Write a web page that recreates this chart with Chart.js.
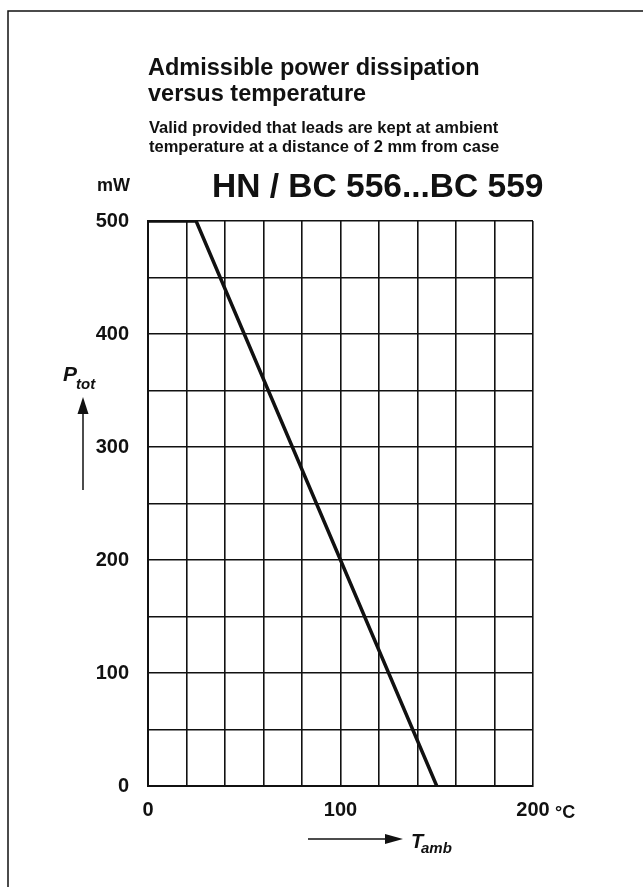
<!DOCTYPE html>
<html>
<head>
<meta charset="utf-8">
<script src="https://cdn.jsdelivr.net/npm/chart.js@4.4.1/dist/chart.umd.min.js"></script>
<style>
  html, body { margin: 0; padding: 0; background: #fff; }
  #wrap { position: relative; width: 643px; height: 887px; }
</style>
</head>
<body>
<div id="wrap"><canvas id="myChart" width="643" height="887"></canvas></div>
<script>
// dữ liệu đường công suất cho phép theo nhiệt độ
var nhietdo = [0, 25, 150];      // T_amb (°C)
var congsuat = [500, 500, 0];    // P_tot (mW)
var xTicks = [0, 100, 200];
var yTicks = [0, 100, 200, 300, 400, 500];

var FONT = "'Liberation Sans', Arial, sans-serif";

// vẽ chữ, mũi tên, khung quét
var chuThich = {
    id: 'chuThich',
    afterDraw: function (chart) {
        var ctx = chart.ctx;
        ctx.save();
        ctx.fillStyle = '#111';
        ctx.strokeStyle = '#111';

        // khung trang
        ctx.lineWidth = 1.5;
        ctx.beginPath();
        ctx.moveTo(8, 887);
        ctx.lineTo(8, 11);
        ctx.lineTo(643, 11);
        ctx.stroke();

        ctx.textBaseline = 'alphabetic';
        ctx.textAlign = 'left';
        ctx.font = 'bold 23.5px ' + FONT;
        ctx.fillText('Admissible power dissipation', 148, 75);
        ctx.fillText('versus temperature', 148, 101);

        ctx.font = 'bold 16.5px ' + FONT;
        ctx.fillText('Valid provided that leads are kept at ambient', 149, 133);
        ctx.fillText('temperature at a distance of 2 mm from case', 149, 152);

        ctx.font = 'bold 33.5px ' + FONT;
        ctx.fillText('HN / BC 556...BC 559', 212, 197);

        ctx.font = 'bold 18px ' + FONT;
        ctx.fillText('mW', 97, 191);
        ctx.fillText('°C', 555, 818);

        // P_tot
        ctx.font = 'italic bold 21px ' + FONT;
        ctx.fillText('P', 63, 381);
        ctx.font = 'italic bold 15px ' + FONT;
        ctx.fillText('tot', 76, 389);
        ctx.lineWidth = 1.5;
        ctx.beginPath();
        ctx.moveTo(83, 490);
        ctx.lineTo(83, 410);
        ctx.stroke();
        ctx.beginPath();
        ctx.moveTo(83, 397);
        ctx.lineTo(77.5, 414);
        ctx.lineTo(88.5, 414);
        ctx.closePath();
        ctx.fill();

        // T_amb
        ctx.beginPath();
        ctx.moveTo(308, 839);
        ctx.lineTo(390, 839);
        ctx.stroke();
        ctx.beginPath();
        ctx.moveTo(403, 839);
        ctx.lineTo(385, 834);
        ctx.lineTo(385, 844);
        ctx.closePath();
        ctx.fill();
        ctx.font = 'italic bold 20px ' + FONT;
        ctx.fillText('T', 411, 848);
        ctx.font = 'italic bold 15px ' + FONT;
        ctx.fillText('amb', 421, 853);

        ctx.restore();
    }
};

var bieudo = new Chart('myChart', {
    type: 'line',
    data: {
        datasets: [{
            data: nhietdo.map(function (t, i) { return { x: t, y: congsuat[i] }; }),
            borderColor: '#111',
            borderWidth: 3.5,
            pointRadius: 0,
            fill: false,
            tension: 0
        }]
    },
    options: {
        responsive: false,
        animation: false,
        layout: { padding: { top: 221, right: 110, left: 0, bottom: 0 } },
        plugins: { legend: { display: false }, tooltip: { enabled: false } },
        scales: {
            x: {
                type: 'linear',
                min: 0, max: 200,
                afterFit: function (s) { s.height = 101; },
                grid: { color: '#111', lineWidth: 1.6, drawTicks: false },
                border: { color: '#111', width: 2 },
                ticks: {
                    stepSize: 20,
                    autoSkip: false,
                    maxRotation: 0,
                    padding: 12,
                    color: '#111',
                    font: { family: FONT, size: 20, weight: 'bold' },
                    callback: function (v) { return xTicks.indexOf(v) >= 0 ? String(v) : ''; }
                }
            },
            y: {
                min: 0, max: 500,
                afterFit: function (s) { s.width = 148; },
                grid: { color: '#111', lineWidth: 1.6, drawTicks: false },
                border: { color: '#111', width: 2 },
                ticks: {
                    stepSize: 50,
                    autoSkip: false,
                    padding: 19,
                    color: '#111',
                    font: { family: FONT, size: 20, weight: 'bold' },
                    callback: function (v) { return yTicks.indexOf(v) >= 0 ? String(v) : ''; }
                }
            }
        }
    },
    plugins: [chuThich]
});
</script>
</body>
</html>
